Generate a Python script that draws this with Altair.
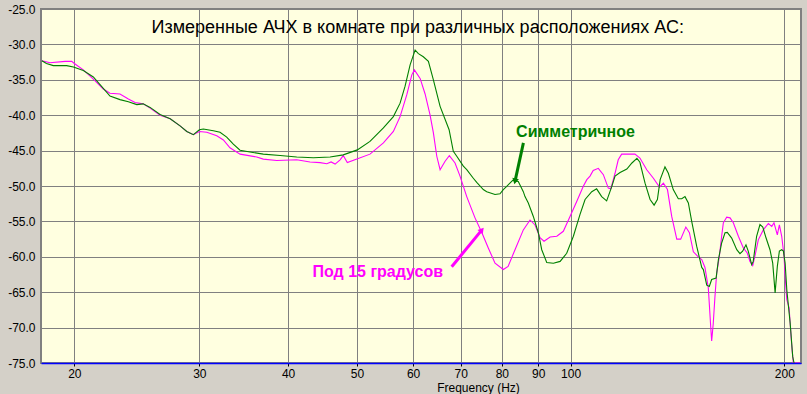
import altair as alt
import pandas as pd

# ---- data ----
freq_sym = [18.0, 18.27, 18.68, 19.51, 19.94, 20.59, 21.27, 21.97, 22.45, 23.19, 23.83, 24.49, 25.0, 25.57,
            26.41, 27.29, 28.18, 28.80, 29.42, 30.0, 30.39, 31.39, 32.08, 32.78, 33.49, 34.23, 35.35, 36.91,
            38.98, 41.14, 43.42, 45.84, 47.84, 50.07, 52.17, 54.49, 56.28, 57.52, 58.46, 59.42, 60.39, 61.04,
            62.02, 63.05, 64.08, 65.49, 67.43, 68.36, 69.13, 70.62, 71.40, 72.94, 73.75, 75.34, 76.18, 78.26,
            79.53, 80.39, 81.28, 82.88, 83.50, 84.39, 85.78, 86.25, 87.18, 88.61, 90.06, 91.06, 92.55, 94.57,
            96.65, 98.74, 100.9, 103.1, 104.8, 107.1, 108.8, 110.6, 112.4, 114.3, 115.5, 117.4, 120.0, 122.0,
            124.0, 125.2, 127.3, 129.4, 131.1, 132.5, 133.7, 135.8, 137.3, 139.5, 141.8, 143.4, 144.9, 146.5,
            148.1, 150.5, 153.0, 153.8, 155.5, 156.8, 158.0, 160.3, 161.5, 163.2, 165.0, 166.2, 168.6, 171.4,
            173.2, 174.7, 176.6, 177.9, 179.9, 180.8, 182.8, 184.8, 186.5, 188.5, 190.9, 192.6, 194.1, 195.5,
            196.8, 198.3, 199.4, 200.5, 201.6, 203.8, 205.5, 206.4]
db_sym = [-32.3, -32.7, -33.0, -33.0, -33.2, -33.7, -34.6, -36.2, -37.3, -37.8, -38.1, -38.5, -38.4, -38.9,
          -39.9, -40.5, -41.5, -42.3, -42.75, -42.05, -41.95, -42.2, -42.4, -43.1, -44.1, -44.95, -45.2, -45.5,
          -45.7, -45.9, -46.0, -45.9, -45.6, -44.9, -43.7, -41.8, -40.2, -38.3, -35.9, -32.9, -30.8, -31.3,
          -31.75, -32.4, -35.0, -38.75, -42.05, -45.1, -45.8, -47.2, -47.7, -48.9, -49.5, -50.5, -50.8, -51.2,
          -51.1, -50.5, -50.05, -49.2, -49.3, -49.35, -50.8, -51.5, -52.4, -54.3, -56.6, -59.0, -60.8, -60.9,
          -60.65, -59.5, -57.1, -54.0, -51.9, -50.8, -50.4, -51.5, -52.1, -50.05, -48.6, -48.1, -47.6, -46.75,
          -46.1, -46.65, -49.6, -51.9, -52.7, -51.9, -49.1, -47.3, -48.2, -50.5, -51.8, -51.8, -51.5, -52.4,
          -55.0, -58.5, -61.5, -61.8, -64.0, -64.2, -63.2, -63.0, -60.4, -58.05, -56.6, -56.55, -57.35, -59.0,
          -59.55, -59.2, -58.3, -59.2, -61.1, -60.65, -57.1, -55.45, -55.8, -57.35, -59.0, -60.9, -65.1, -61.35,
          -59.2, -59.0, -59.2, -60.9, -64.65, -69.35, -74.1, -75.0]

freq_15 = [18.0, 18.48, 19.41, 19.83, 20.0, 20.59, 21.27, 21.97, 22.45, 23.19, 23.83, 24.35, 25.0, 25.57,
           26.41, 27.29, 28.18, 28.80, 29.42, 30.0, 30.73, 31.74, 32.43, 33.13, 34.23, 36.13, 36.91, 38.56,
           41.14, 42.95, 44.38, 45.35, 45.99, 46.59, 47.35, 47.84, 48.47, 50.0, 52.17, 54.49, 56.28, 57.52,
           58.79, 59.75, 60.25, 61.38, 62.38, 63.40, 64.08, 64.79, 65.49, 66.56, 67.48, 68.74, 69.86, 71.40,
           73.34, 75.0, 76.57, 78.26, 80.39, 81.65, 83.50, 85.78, 87.67, 89.10, 90.56, 91.74, 93.56, 95.62,
           97.66, 99.81, 102.0, 104.2, 105.4, 106.5, 107.6, 109.4, 111.2, 113.0, 113.9, 115.5, 116.7, 118.0,
           123.2, 125.2, 128.0, 130.8, 133.4, 135.1, 136.9, 138.8, 141.1, 142.9, 145.3, 147.0, 148.9, 151.3,
           153.0, 154.6, 156.3, 157.5, 158.0, 158.8, 159.7, 160.6, 162.0, 163.2, 164.1, 165.9, 167.7, 169.5,
           172.3, 175.1, 177.3, 178.9, 180.5, 181.8, 183.8, 186.8, 189.9, 192.0, 193.4, 195.5, 196.8, 198.3,
           199.8, 200.5, 201.6, 203.1, 203.8, 204.9, 205.9, 210.5]
db_15 = [-32.3, -32.6, -32.4, -32.4, -32.7, -33.6, -34.9, -36.3, -36.9, -37.0, -37.7, -38.2, -38.4, -39.0,
         -40.0, -40.5, -41.5, -42.3, -42.75, -42.3, -42.4, -42.9, -43.5, -44.6, -45.5, -45.9, -46.2, -46.4,
         -46.3, -46.6, -46.7, -46.85, -46.6, -46.9, -46.3, -45.7, -46.7, -46.2, -45.5, -43.9, -42.3, -40.2,
         -37.1, -34.3, -33.6, -34.8, -37.0, -40.0, -42.5, -45.8, -47.7, -46.5, -45.7, -46.75, -48.6, -51.5,
         -54.5, -56.6, -58.75, -60.9, -61.8, -61.35, -59.0, -56.2, -54.8, -55.5, -57.3, -57.8, -57.2, -57.1,
         -56.4, -54.3, -52.2, -50.05, -49.1, -48.6, -47.8, -47.5, -48.4, -50.3, -50.4, -48.2, -46.3, -45.5,
         -45.5, -46.05, -47.7, -48.9, -50.15, -49.6, -50.5, -54.3, -57.5, -57.5, -55.8, -56.6, -59.3, -60.0,
         -60.4, -61.5, -64.4, -69.8, -71.9, -69.5, -65.6, -62.3, -59.9, -57.1, -55.2, -54.4, -54.5, -55.2,
         -57.1, -58.75, -59.45, -60.65, -61.25, -59.9, -57.6, -56.2, -55.3, -55.7, -55.2, -56.9, -55.5, -57.1,
         -59.9, -62.7, -66.05, -67.2, -69.35, -72.65, -75.0, -75.0]

x_ticks = [20, 30, 40, 50, 60, 70, 80, 90, 100, 200]
y_ticks = [-75, -70, -65, -60, -55, -50, -45, -40, -35, -30, -25]

title_text = "Измеренные АЧХ в комнате при различных расположениях АС:"
label_sym = "Симметричное"
label_15 = "Под 15 градусов"

# annotation anchor positions (in data units)
title_pos = (60.9, -28.4)
sym_text_pos = (83.8, -43.05)
p15_text_pos = (43.3, -62.9)
sym_arrow = (85.8, -43.9, 83.5, -49.35)
p15_arrow = (68.0, -61.4, 75.0, -56.2)

GREEN = "#008000"
MAGENTA = "#FF00FF"
FONT = "Arial"

df_sym = pd.DataFrame({"freq": freq_sym, "db": db_sym})
df_15 = pd.DataFrame({"freq": freq_15, "db": db_15})

xscale = alt.Scale(type="log", domain=[17.95, 211.1], nice=False)
yscale = alt.Scale(domain=[-75, -25], nice=False, zero=False)

x_axis = alt.Axis(values=x_ticks, tickCount=30, format="d", title="Frequency (Hz)", grid=True,
                  gridColor="#808080", gridWidth=1, gridOpacity=1,
                  domainColor="#0000FF", domainWidth=1.5, tickColor="#000000", tickSize=3,
                  labelFont=FONT, labelFontSize=12, labelColor="#000000", labelPadding=2,
                  labelFlush=False, labelOverlap=False,
                  titleFont=FONT, titleFontSize=12, titleFontWeight="normal", titleColor="#000000",
                  titleX=437, titleY=28, titleBaseline="alphabetic", titleAlign="center")
y_axis = alt.Axis(values=y_ticks, tickCount=30, title=None, grid=True,
                  gridColor="#808080", gridWidth=1, gridOpacity=1,
                  domain=False, ticks=False, labelPadding=6, labelOverlap=False, labelFlush=False,
                  labelExpr="(datum.value < 0 ? '-' : '') + format(abs(datum.value), '.1f')",
                  labelFont=FONT, labelFontSize=12, labelColor="#000000")

line15 = alt.Chart(df_15).mark_line(color=MAGENTA, strokeWidth=1.1, clip=True).encode(
    x=alt.X("freq:Q", scale=xscale, axis=x_axis),
    y=alt.Y("db:Q", scale=yscale, axis=y_axis),
)
linesym = alt.Chart(df_sym).mark_line(color=GREEN, strokeWidth=1.1, clip=True).encode(
    x=alt.X("freq:Q", scale=xscale),
    y=alt.Y("db:Q", scale=yscale),
)

df_text = pd.DataFrame({
    "freq": [title_pos[0], sym_text_pos[0], p15_text_pos[0]],
    "db": [title_pos[1], sym_text_pos[1], p15_text_pos[1]],
    "txt": [title_text, label_sym, label_15],
})

title_mark = alt.Chart(df_text.iloc[[0]]).mark_text(
    font=FONT, fontSize=18, color="#000000", align="center", baseline="alphabetic").encode(
    x=alt.X("freq:Q", scale=xscale), y=alt.Y("db:Q", scale=yscale), text="txt:N")
sym_mark = alt.Chart(df_text.iloc[[1]]).mark_text(
    font=FONT, fontSize=16, fontWeight="bold", color=GREEN, align="left", baseline="alphabetic").encode(
    x=alt.X("freq:Q", scale=xscale), y=alt.Y("db:Q", scale=yscale), text="txt:N")
p15_mark = alt.Chart(df_text.iloc[[2]]).mark_text(
    font=FONT, fontSize=16, fontWeight="bold", color=MAGENTA, align="left", baseline="alphabetic").encode(
    x=alt.X("freq:Q", scale=xscale), y=alt.Y("db:Q", scale=yscale), text="txt:N")

df_arrows = pd.DataFrame({
    "f1": [sym_arrow[0], p15_arrow[0]], "d1": [sym_arrow[1], p15_arrow[1]],
    "f2": [sym_arrow[2], p15_arrow[2]], "d2": [sym_arrow[3], p15_arrow[3]],
    "col": [GREEN, MAGENTA], "ang": [192, 39],
})
arrows = alt.Chart(df_arrows).mark_rule(strokeWidth=3).encode(
    x=alt.X("f1:Q", scale=xscale), y=alt.Y("d1:Q", scale=yscale),
    x2="f2:Q", y2="d2:Q",
    color=alt.Color("col:N", scale=None),
)
heads = alt.Chart(df_arrows).mark_point(shape="triangle-up", size=45, filled=True, opacity=1).encode(
    x=alt.X("f2:Q", scale=xscale), y=alt.Y("d2:Q", scale=yscale),
    color=alt.Color("col:N", scale=None),
    angle=alt.Angle("ang:Q", scale=None),
)

chart = alt.layer(line15, linesym, arrows, heads, title_mark, sym_mark, p15_mark).properties(
    width=760, height=354,
    autosize=alt.AutoSizeParams(type="none"),
    padding={"left": 41, "top": 9, "right": 6, "bottom": 31},
    background="#D4D0C8",
).configure_view(fill="#FFFFE0", stroke="#808080", strokeWidth=2)

chart.save("out.html", embed_options={"renderer": "svg", "actions": False})
